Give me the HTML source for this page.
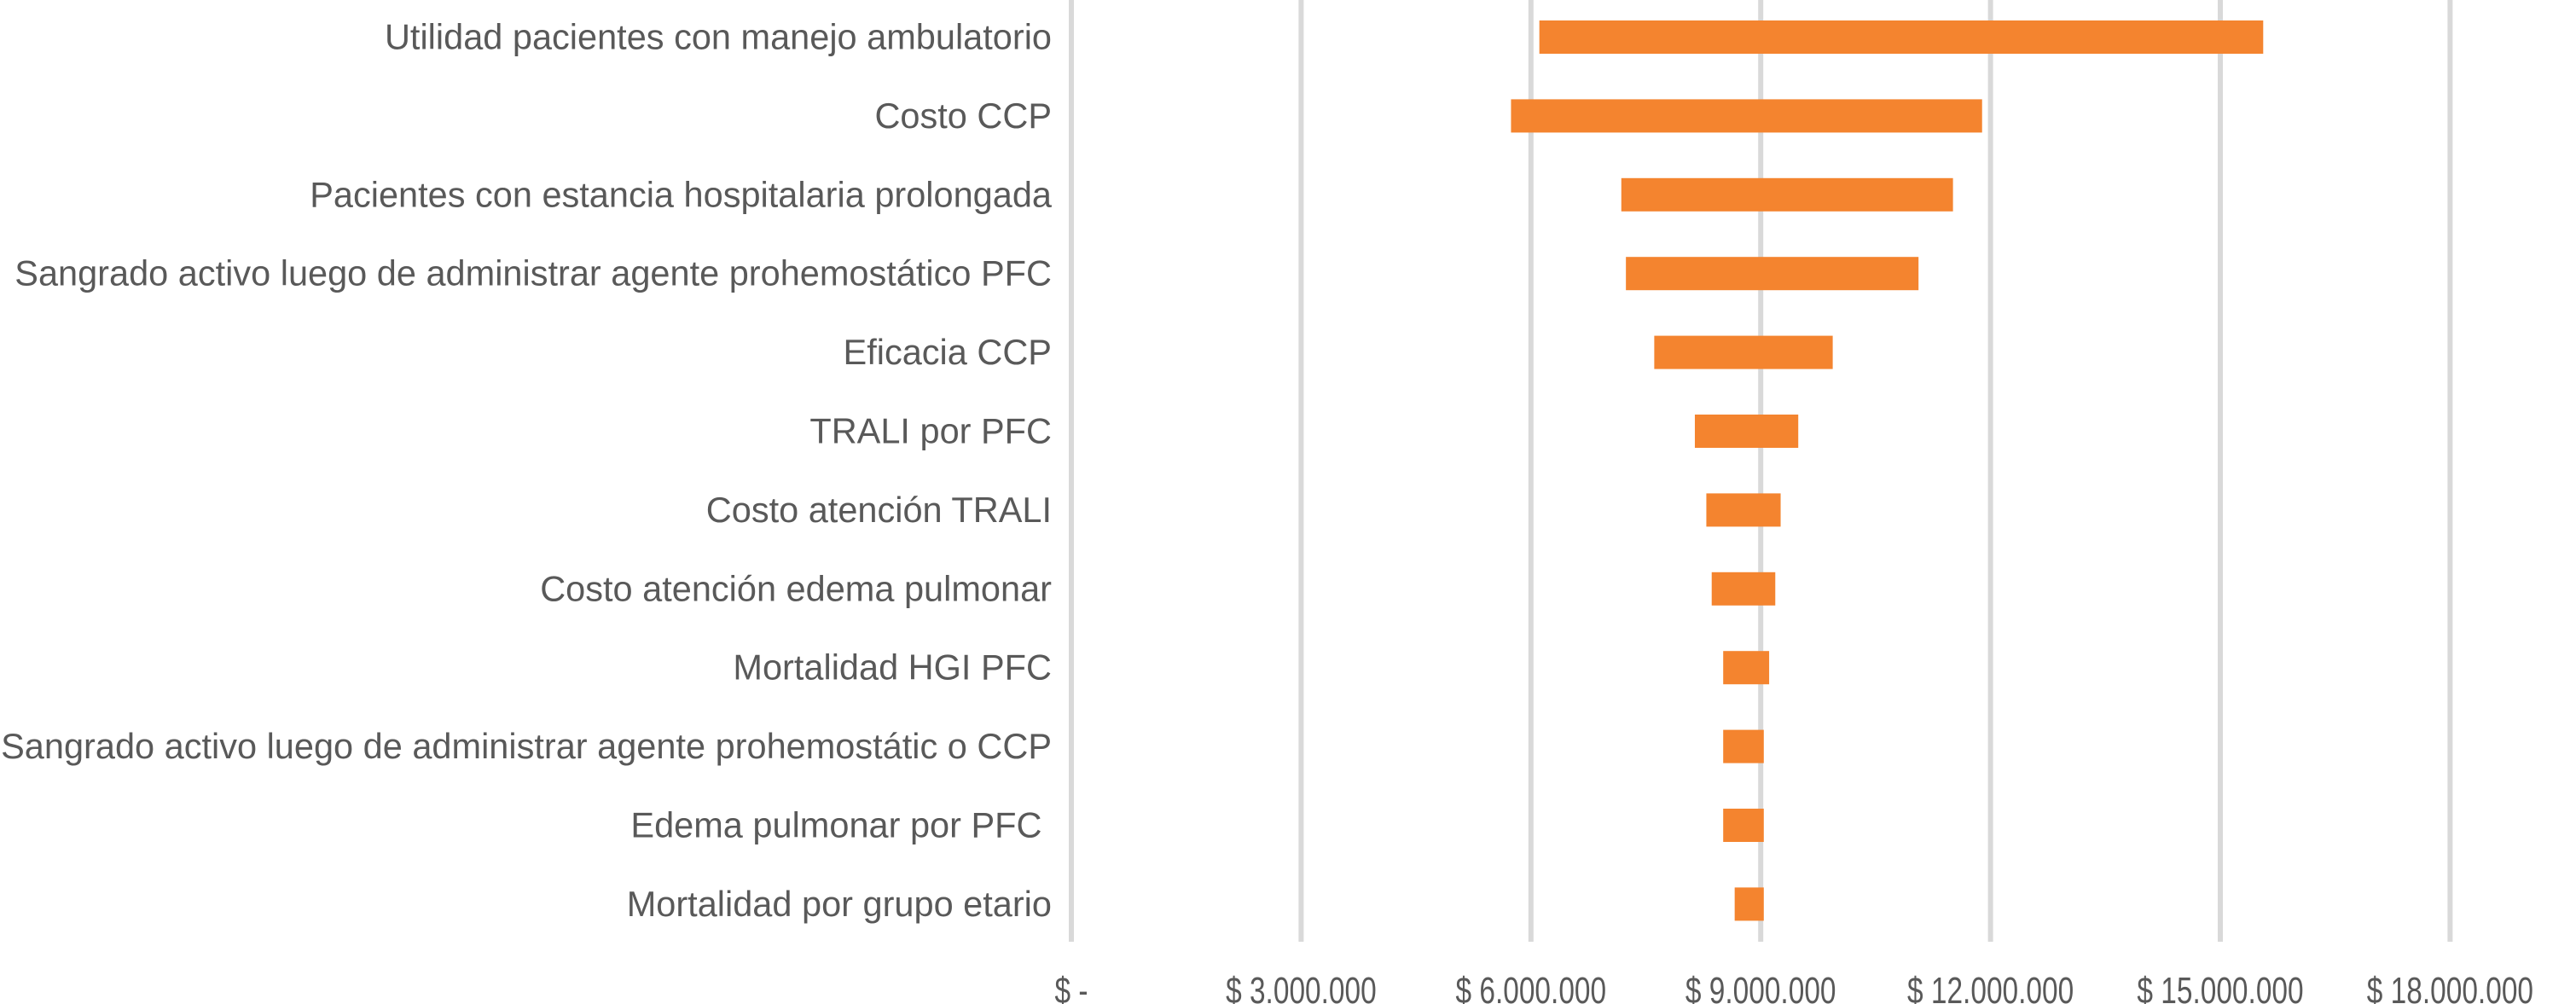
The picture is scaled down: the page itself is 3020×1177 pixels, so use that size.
<!DOCTYPE html>
<html><head><meta charset="utf-8"><style>
html,body{margin:0;padding:0;background:#fff;}
svg{display:block;font-family:"Liberation Sans",Arial,sans-serif;}
</style></head><body>
<svg id="chart" width="3020" height="1177" viewBox="0 0 3020 1177" xmlns="http://www.w3.org/2000/svg">
<g id="grid"></g>
<g id="bars"></g>
<g id="ylabels"></g>
<g id="xlabels"></g>
</svg>
<script>
const categories = ["Utilidad pacientes con manejo ambulatorio","Costo CCP","Pacientes con estancia hospitalaria prolongada","Sangrado activo luego de administrar agente prohemostático PFC","Eficacia CCP","TRALI por PFC","Costo atención TRALI","Costo atención edema pulmonar","Mortalidad HGI PFC","Sangrado activo luego de administrar agente prohemostátic o CCP","Edema pulmonar por PFC ","Mortalidad por grupo etario"];
const lowValues = [6110000,5740000,7180000,7240000,7610000,8140000,8290000,8360000,8510000,8510000,8510000,8660000];
const highValues = [15560000,11890000,11510000,11060000,9940000,9490000,9260000,9190000,9110000,9040000,9040000,9040000];
const tickValues = [0,3000000,6000000,9000000,12000000,15000000,18000000];
const tickLabels = ["$ -","$ 3.000.000","$ 6.000.000","$ 9.000.000","$ 12.000.000","$ 15.000.000","$ 18.000.000"];

const NS="http://www.w3.org/2000/svg";
const x0=1256, pxPer=269.4/3000000;
const xScale=v=>x0+v*pxPer;
const yTop=43.5, rowStep=92.4, barH=39;
const yScale=i=>yTop+i*rowStep;
function mk(tag,attrs,parent){const e=document.createElementNS(NS,tag);for(const k in attrs)e.setAttribute(k,attrs[k]);parent.appendChild(e);return e;}
const grid=document.getElementById('grid'),bars=document.getElementById('bars'),yl=document.getElementById('ylabels'),xl=document.getElementById('xlabels');
tickValues.forEach((v,i)=>{
  const l=mk('line',{x1:xScale(v),x2:xScale(v),y1:0,y2:1104,stroke:'#d9d9d9','stroke-width':6},grid);
  
  
  const t=mk('text',{x:xScale(v),y:1176,'text-anchor':'middle','font-size':44,fill:'#595959'},xl);
  t.textContent=tickLabels[i];
  
  
  const w=t.getComputedTextLength();
  t.setAttribute('textLength',w*0.76);
  t.setAttribute('lengthAdjust','spacingAndGlyphs');
});
categories.forEach((c,i)=>{
  const cy=yScale(i);
  const r=mk('rect',{x:xScale(lowValues[i]),y:cy-barH/2,width:xScale(highValues[i])-xScale(lowValues[i]),height:barH,fill:'#f4842f'},bars);
  
  
  const t=mk('text',{x:1233,y:cy+14,'text-anchor':'end','font-size':41.5,fill:'#595959'},yl);
  t.setAttribute('xml:space','preserve');
  t.style.whiteSpace='pre';
  t.textContent=c;
  
  
});
</script>
</body></html>
